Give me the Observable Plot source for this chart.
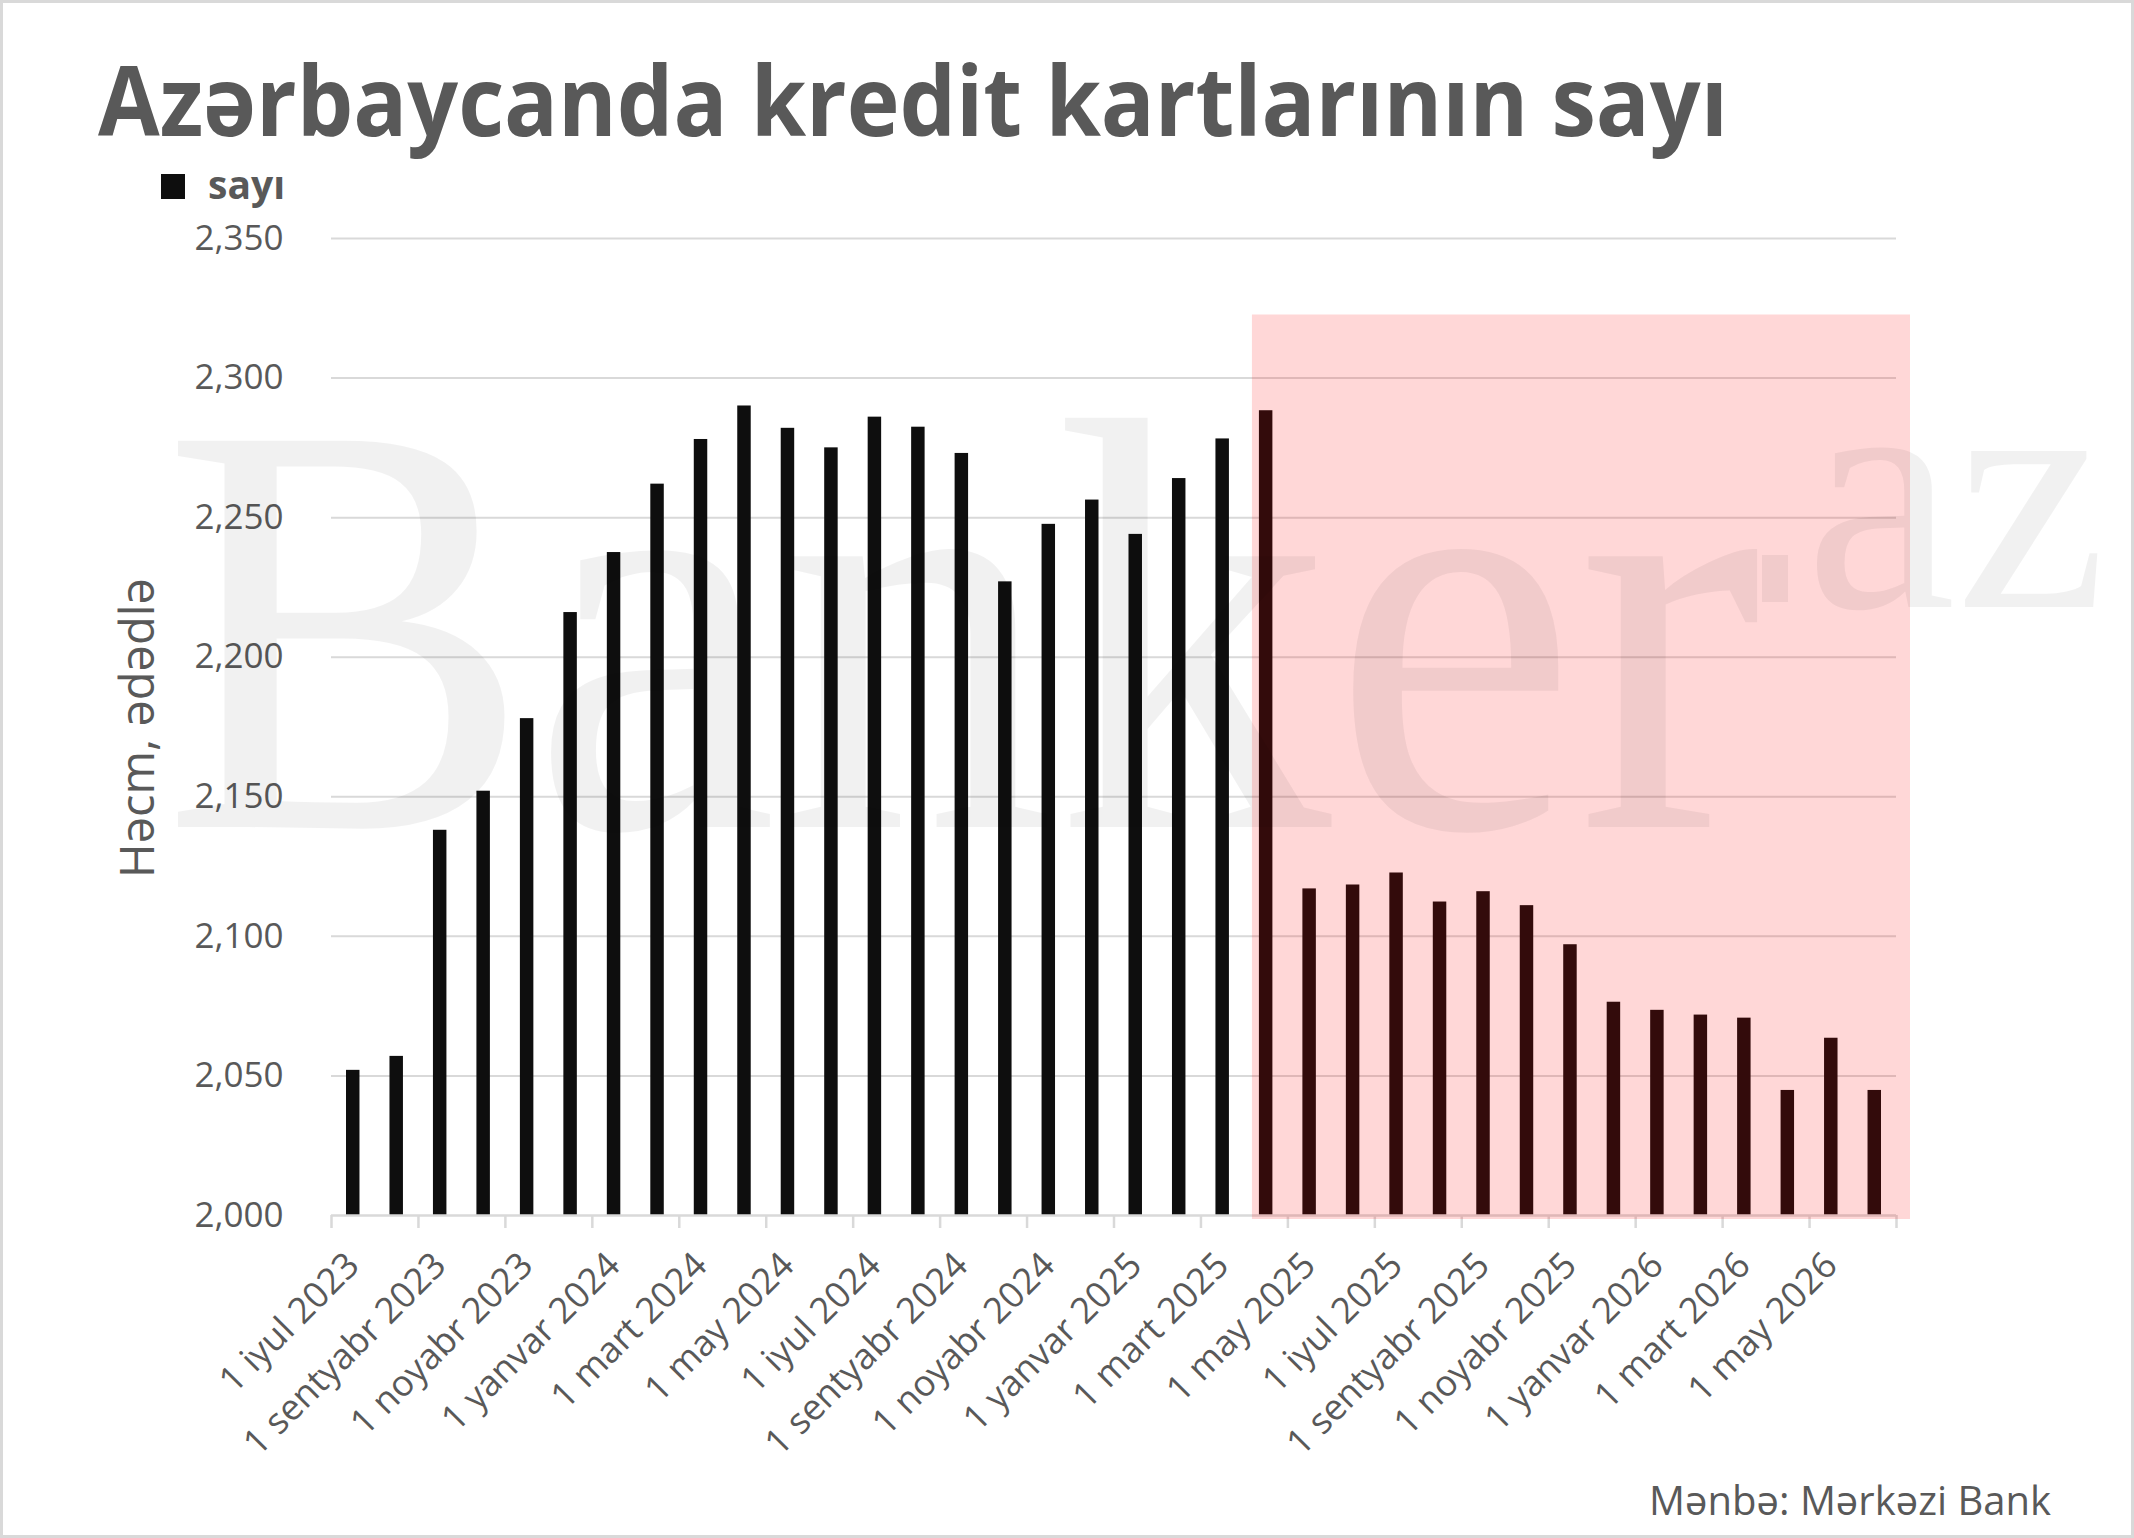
<!DOCTYPE html>
<html>
<head>
<meta charset="utf-8">
<script src="https://cdn.jsdelivr.net/npm/d3@7"></script>
<script src="https://cdn.jsdelivr.net/npm/@observablehq/plot@0.6"></script>
<style>
  html, body { margin: 0; padding: 0; background: #fff; }
  #wrap { position: relative; width: 2134px; height: 1538px; background: #fff; overflow: hidden; font-family: "Open Sans", sans-serif; }
  #chart { position: absolute; left: 0; top: 0; }
  #overlay { position: absolute; left: 0; top: 0; pointer-events: none; }
  #frame { position: absolute; inset: 0; border: 3px solid #d9d9d9; box-sizing: border-box; pointer-events: none; }
</style>
</head>
<body>
<div id="wrap">
  <div id="chart"></div>
  <svg id="overlay" width="2134" height="1538" xmlns="http://www.w3.org/2000/svg"></svg>
  <div id="frame"></div>
</div>
<script>
// ---- data ----
const months = [
  "2023-07","2023-08","2023-09","2023-10","2023-11","2023-12",
  "2024-01","2024-02","2024-03","2024-04","2024-05","2024-06",
  "2024-07","2024-08","2024-09","2024-10","2024-11","2024-12",
  "2025-01","2025-02","2025-03","2025-04","2025-05","2025-06",
  "2025-07","2025-08","2025-09","2025-10","2025-11","2025-12",
  "2026-01","2026-02","2026-03","2026-04","2026-05","2026-06"
];
const values = [
  2052, 2057, 2138, 2152, 2178, 2216,
  2237.5, 2262, 2278, 2290, 2282, 2275,
  2286, 2282.4, 2273, 2227, 2247.6, 2256.3,
  2244, 2264, 2278.2, 2288.3, 2117, 2118.4,
  2122.7, 2112.3, 2116, 2111, 2097, 2076.4,
  2073.5, 2071.8, 2070.7, 2044.8, 2063.5, 2044.8
];
const tickLabels = [
  "1 iyul 2023","1 sentyabr 2023","1 noyabr 2023","1 yanvar 2024","1 mart 2024","1 may 2024",
  "1 iyul 2024","1 sentyabr 2024","1 noyabr 2024","1 yanvar 2025","1 mart 2025","1 may 2025",
  "1 iyul 2025","1 sentyabr 2025","1 noyabr 2025","1 yanvar 2026","1 mart 2026","1 may 2026"
];
const yTicks = [2000, 2050, 2100, 2150, 2200, 2250, 2300, 2350];
const highlightFrom = ["2025-04"];
const highlightTop = [2322.6];

const title = "Azərbaycanda kredit kartlarının sayı";
const seriesName = "sayı";
const yTitle = "Həcm, ədədlə";
const source = "Mənbə: Mərkəzi Bank";

// ---- build ----
const data = months.map((m, i) => ({i, m, v: values[i]}));
const labels = tickLabels.map((t, k) => ({t, i: months.indexOf(months[k * 2])}));
const highlight = highlightFrom.map((f, k) => ({x1: months.indexOf(f), x2: months.length, top: highlightTop[k]}));
const grey = "#595959";

const plot = Plot.plot({
  width: 2134,
  height: 1538,
  marginLeft: 331,
  marginRight: 238,
  marginTop: 238,
  marginBottom: 323,
  x: {domain: [0, months.length], axis: null},
  y: {domain: [2000, 2350], axis: null},
  style: {background: "transparent", fontFamily: "'Open Sans', sans-serif"},
  marks: [
    Plot.gridY(yTicks.filter(t => t > 2000), {stroke: "#d9d9d9", strokeOpacity: 1, strokeWidth: 2}),
    Plot.rect(data, {x1: "i", x2: d => d.i + 1, y1: () => 2000, y2: "v", fill: "#0e0e0e", insetLeft: 15, insetRight: 15}),
    Plot.ruleY([2000], {stroke: "#d9d9d9", strokeWidth: 2.5}),
    Plot.axisX({ticks: d3.range(0, months.length + 1, 2), tickSize: 13, tickFormat: () => "", stroke: "#d9d9d9", strokeWidth: 2.5, strokeOpacity: 1}),
    Plot.axisY({ticks: yTicks, tickSize: 0, tickPadding: 48, tickFormat: d3.format(","), fontSize: 35, fill: grey}),
    Plot.text(labels, {x: d => d.i + 0.5, text: "t", frameAnchor: "bottom", rotate: -45, textAnchor: "end", dx: 8, dy: 52, fontSize: 36, fill: grey}),
    Plot.rect(highlight, {x1: "x1", x2: "x2", y1: () => 2000, y2: "top", fill: "#ff0000", fillOpacity: 0.157, insetLeft: 8, insetRight: -14, insetBottom: -4})
  ]
});
document.getElementById("chart").appendChild(plot);

// ---- overlay texts ----
const ov = d3.select("#overlay");
// watermark
ov.append("text").attr("x", 162).attr("y", 827)
  .attr("font-family", "'Liberation Serif', serif").attr("font-size", 590)
  .attr("textLength", 1600).attr("lengthAdjust", "spacingAndGlyphs")
  .attr("fill", "#000").attr("fill-opacity", 0.055).text("Banker");
ov.append("rect").attr("x", 1762).attr("y", 555).attr("width", 26).attr("height", 47)
  .attr("fill", "#000").attr("fill-opacity", 0.055);
ov.append("text").attr("x", 1805).attr("y", 607)
  .attr("font-family", "'Liberation Serif', serif").attr("font-size", 340)
  .attr("fill", "#000").attr("fill-opacity", 0.055).text("az");

// title
ov.append("text").attr("x", 98).attr("y", 136)
  .attr("font-family", "'Open Sans', sans-serif").attr("font-weight", 700).attr("font-size", 97)
  .attr("textLength", 1630).attr("lengthAdjust", "spacingAndGlyphs")
  .attr("fill", grey).text(title);
// legend
ov.append("rect").attr("x", 161).attr("y", 174).attr("width", 24).attr("height", 25).attr("fill", "#0e0e0e");
ov.append("text").attr("x", 208).attr("y", 199)
  .attr("font-family", "'Open Sans', sans-serif").attr("font-weight", 700).attr("font-size", 39)
  .attr("fill", grey).text(seriesName);
// y title
ov.append("text").attr("transform", "translate(154,728) rotate(-90)").attr("text-anchor", "middle")
  .attr("font-family", "'Open Sans', sans-serif").attr("font-size", 47)
  .attr("fill", grey).text(yTitle);
// source
ov.append("text").attr("x", 2051).attr("y", 1515).attr("text-anchor", "end")
  .attr("font-family", "'Open Sans', sans-serif").attr("font-size", 40)
  .attr("fill", grey).text(source);
</script>
</body>
</html>
